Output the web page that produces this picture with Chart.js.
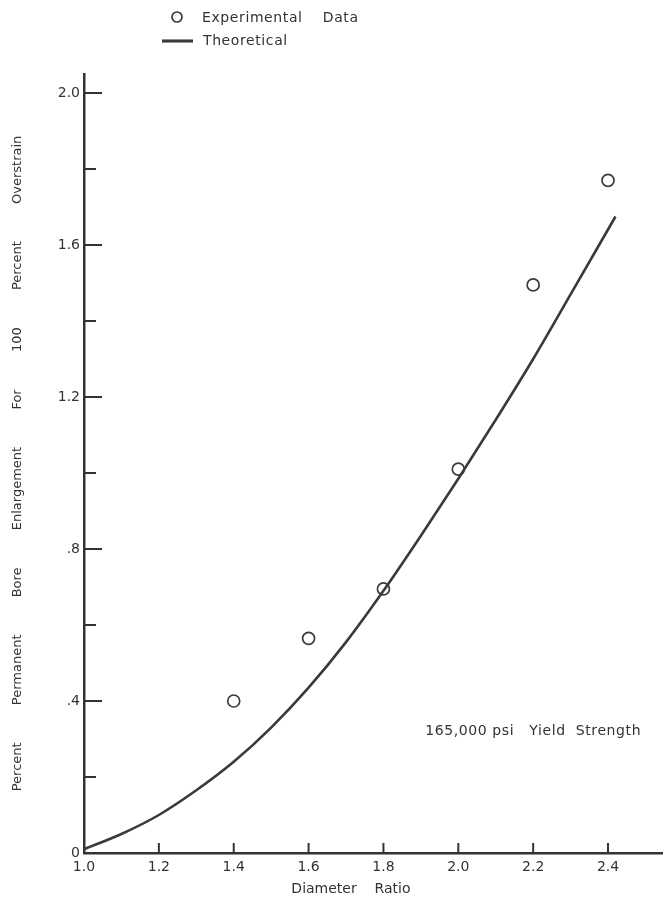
<!DOCTYPE html>
<html>
<head>
<meta charset="utf-8">
<script src="https://cdn.jsdelivr.net/npm/chart.js@4.4.1/dist/chart.umd.min.js"></script>
<style>
  html, body { margin: 0; padding: 0; background: #ffffff; }
  #wrap { position: relative; width: 670px; height: 898px; }
</style>
</head>
<body>
<div id="wrap"><canvas id="c" width="670" height="898"></canvas></div>
<script>
// ---- data ----
const expX = [1.4, 1.6, 1.8, 2.0, 2.2, 2.4];
const expY = [0.40, 0.565, 0.695, 1.01, 1.495, 1.77];

const theoX = [1.0, 1.1, 1.2, 1.3, 1.4, 1.5, 1.6, 1.7, 1.8, 1.9, 2.0, 2.1, 2.2, 2.3, 2.42];
const theoY = [0.01, 0.05, 0.10, 0.165, 0.24, 0.33, 0.435, 0.555, 0.69, 0.835, 0.985, 1.14, 1.30, 1.47, 1.675];

const xTickValues = [1.0, 1.2, 1.4, 1.6, 1.8, 2.0, 2.2, 2.4];
const xTickLabels = ['1.0', '1.2', '1.4', '1.6', '1.8', '2.0', '2.2', '2.4'];
const yTickValues = [0, 0.4, 0.8, 1.2, 1.6, 2.0];
const yTickLabels = ['0', '.4', '.8', '1.2', '1.6', '2.0'];

const seriesLabels = ['Experimental    Data', 'Theoretical'];
const xTitle = 'Diameter    Ratio';
const yTitle = 'Percent         Permanent         Bore         Enlargement         For         100         Percent         Overstrain';
const noteText = '165,000 psi   Yield  Strength';
const noteAt = { x: 2.2, y: 0.32 };

// ---- styling ----
const INK = '#333333';
const FONT = 'DejaVu Sans';

function labelFor(v, vals, labs) {
  const r = Math.round(v * 100) / 100;
  for (let i = 0; i < vals.length; i++) {
    if (Math.abs(vals[i] - r) < 1e-6) return labs[i];
  }
  return '';
}

const expData = expX.map((x, i) => ({ x: x, y: expY[i] }));
const theoData = theoX.map((x, i) => ({ x: x, y: theoY[i] }));

// inward tick marks, annotation and legend
const decorPlugin = {
  id: 'decor',
  afterDraw(chart) {
    const ctx = chart.ctx;
    const xs = chart.scales.x, ys = chart.scales.y;
    ctx.save();
    ctx.strokeStyle = INK;
    ctx.lineWidth = 2;
    // y ticks pointing into the plot
    ys.ticks.forEach(t => {
      const lab = labelFor(t.value, yTickValues, yTickLabels);
      if (t.value === 0) return;
      const py = ys.getPixelForValue(t.value);
      const len = lab ? 18 : 12;
      ctx.beginPath();
      ctx.moveTo(xs.left, py);
      ctx.lineTo(xs.left + len, py);
      ctx.stroke();
    });
    // x ticks pointing up
    xs.ticks.forEach(t => {
      const lab = labelFor(t.value, xTickValues, xTickLabels);
      if (!lab || Math.abs(t.value - 1.0) < 1e-6) return;
      const px = xs.getPixelForValue(t.value);
      ctx.beginPath();
      ctx.moveTo(px, ys.bottom);
      ctx.lineTo(px, ys.bottom - 10);
      ctx.stroke();
    });
    // annotation
    ctx.fillStyle = INK;
    if ('letterSpacing' in ctx) ctx.letterSpacing = '0.6px';
    ctx.font = '14px "' + FONT + '"';
    ctx.textAlign = 'center';
    ctx.textBaseline = 'middle';
    ctx.fillText(noteText, xs.getPixelForValue(noteAt.x), ys.getPixelForValue(noteAt.y));

    // legend (stacked, top-left)
    const ds0 = chart.data.datasets[0], ds1 = chart.data.datasets[1];
    ctx.textAlign = 'left';
    // experimental marker
    ctx.lineWidth = ds0.pointBorderWidth;
    ctx.strokeStyle = ds0.pointBorderColor;
    ctx.beginPath();
    ctx.arc(177, 17, 5, 0, Math.PI * 2);
    ctx.stroke();
    ctx.fillText(ds0.label, 202, 18);
    // theoretical line
    ctx.lineWidth = ds1.borderWidth + 0.5;
    ctx.strokeStyle = ds1.borderColor;
    ctx.beginPath();
    ctx.moveTo(162, 41);
    ctx.lineTo(193, 41);
    ctx.stroke();
    ctx.fillText(ds1.label, 203, 41);
    ctx.restore();
  }
};

const chart = new Chart(document.getElementById('c'), {
  type: 'scatter',
  data: {
    datasets: [
      {
        label: seriesLabels[0],
        data: expData,
        showLine: false,
        pointRadius: 6,
        pointHoverRadius: 6,
        pointBackgroundColor: 'rgba(0,0,0,0)',
        pointBorderColor: '#3a3a3a',
        pointBorderWidth: 1.7,
        order: 1
      },
      {
        label: seriesLabels[1],
        data: theoData,
        showLine: true,
        borderColor: '#3a3a3a',
        borderWidth: 2.6,
        pointRadius: 0,
        cubicInterpolationMode: 'monotone',
        fill: false,
        order: 2
      }
    ]
  },
  plugins: [decorPlugin],
  options: {
    responsive: false,
    animation: false,
    devicePixelRatio: 1,
    layout: { padding: { top: 74, right: 0, left: 0, bottom: 0 } },
    plugins: {
      legend: { display: false },
      tooltip: { enabled: false }
    },
    scales: {
      x: {
        type: 'linear',
        min: 1.0,
        max: 2.545,
        grid: { display: false, drawTicks: false },
        border: { display: true, color: INK, width: 2.5 },
        ticks: {
          stepSize: 0.2,
          includeBounds: false,
          padding: 6,
          color: INK,
          font: { family: FONT, size: 14 },
          maxRotation: 0,
          autoSkip: false,
          callback: v => labelFor(v, xTickValues, xTickLabels)
        },
        title: {
          display: true,
          text: xTitle + '          ',
          color: INK,
          font: { family: FONT, size: 14 },
          padding: { top: 0, bottom: 0 }
        },
        afterFit: s => { s.height = 45; }
      },
      y: {
        type: 'linear',
        min: 0,
        max: 2.05,
        grid: { display: false, drawTicks: false },
        border: { display: true, color: INK, width: 2.5 },
        ticks: {
          stepSize: 0.2,
          includeBounds: false,
          padding: 4,
          color: INK,
          font: { family: FONT, size: 14 },
          autoSkip: false,
          callback: v => labelFor(v, yTickValues, yTickLabels)
        },
        title: {
          display: true,
          text: yTitle,
          color: INK,
          font: { family: FONT, size: 13 },
          padding: { top: 10, bottom: 0 }
        },
        afterFit: s => { s.width = 84; }
      }
    }
  }
});
</script>
</body>
</html>
